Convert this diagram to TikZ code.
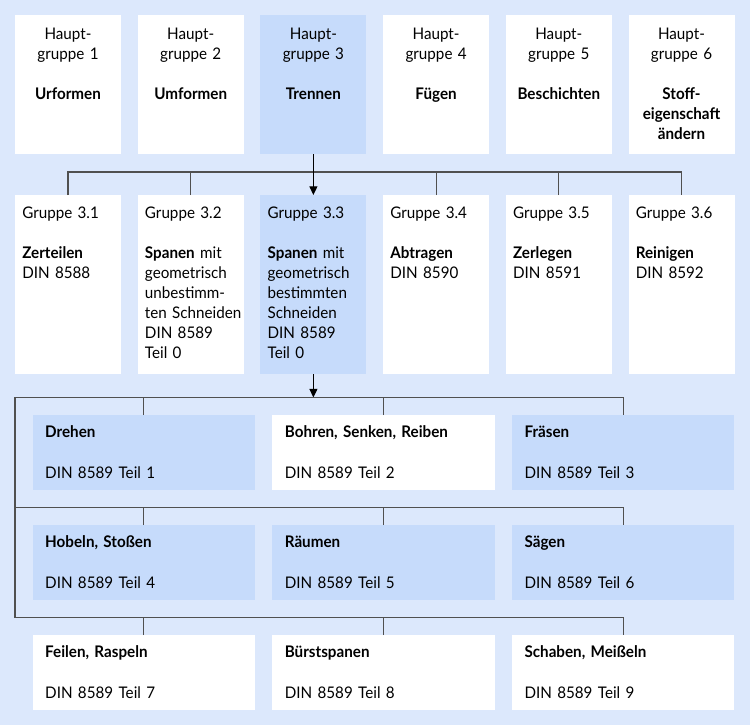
\documentclass[tikz,border=0pt]{standalone}
\usepackage{fontspec}
\setmainfont{Lato}[FakeStretch=0.95,WordSpace=0.85]
\usetikzlibrary{arrows.meta}
\definecolor{bgc}{HTML}{DCE8FC}
\definecolor{hlc}{HTML}{C6DBFB}
\definecolor{linec}{HTML}{505050}
\tikzset{
  topbox/.style={draw=none,anchor=north west,inner sep=0pt,outer sep=0pt,minimum width=79.5pt,minimum height=104.25pt},
  midbox/.style={draw=none,anchor=north west,inner sep=0pt,outer sep=0pt,minimum width=79.5pt,minimum height=134.25pt},
  gridbox/.style={draw=none,anchor=north west,inner sep=0pt,outer sep=0pt,minimum width=166.7pt,minimum height=56.25pt},
  toptext/.style={anchor=base,inner sep=0pt,text width=80pt,align=center,font=\fontsize{12pt}{15pt}\selectfont},
  midtext/.style={anchor=base west,inner sep=0pt,text width=80pt,align=left,font=\fontsize{12pt}{15pt}\selectfont},
  gridtext/.style={anchor=base west,inner sep=0pt,text width=150pt,align=left,font=\fontsize{12pt}{15pt}\selectfont},
  conn/.style={draw=linec,line width=0.8pt},
  arr/.style={draw=black,line width=0.8pt,-{Triangle[length=6.5pt,width=6pt]}}
}
\begin{document}
\begin{tikzpicture}[x=0.75pt,y=-0.75pt]
\fill[bgc] (0,0) rectangle (750,725);
\useasboundingbox (0,0) rectangle (750,725);
% top row
\node[topbox,fill=white] (h1) at (15,15) {};
\node[topbox,fill=white] (h2) at (137.7,15) {};
\node[topbox,fill=hlc]   (h3) at (260.4,15) {};
\node[topbox,fill=white] (h4) at (383.1,15) {};
\node[topbox,fill=white] (h5) at (505.8,15) {};
\node[topbox,fill=white] (h6) at (628.5,15) {};
\node[toptext] (h1t) at ([yshift=-18pt]h1.north) {Haupt-\\gruppe 1\\[15pt]\textbf{Urformen}};
\node[toptext] (h2t) at ([yshift=-18pt]h2.north) {Haupt-\\gruppe 2\\[15pt]\textbf{Umformen}};
\node[toptext] (h3t) at ([yshift=-18pt]h3.north) {Haupt-\\gruppe 3\\[15pt]\textbf{Trennen}};
\node[toptext] (h4t) at ([yshift=-18pt]h4.north) {Haupt-\\gruppe 4\\[15pt]\textbf{Fügen}};
\node[toptext] (h5t) at ([yshift=-18pt]h5.north) {Haupt-\\gruppe 5\\[15pt]\textbf{Beschichten}};
\node[toptext] (h6t) at ([yshift=-18pt]h6.north) {Haupt-\\gruppe 6\\[15pt]\textbf{Stoff-}\\\textbf{eigenschaft}\\\textbf{ändern}};
% second row
\node[midbox,fill=white] (g1) at (15,195) {};
\node[midbox,fill=white] (g2) at (137.7,195) {};
\node[midbox,fill=hlc]   (g3) at (260.4,195) {};
\node[midbox,fill=white] (g4) at (383.1,195) {};
\node[midbox,fill=white] (g5) at (505.8,195) {};
\node[midbox,fill=white] (g6) at (628.5,195) {};
\node[midtext] (g1t) at ([xshift=5.25pt,yshift=-17.25pt]g1.north west) {Gruppe 3.1\\[15pt]\textbf{Zerteilen}\\DIN 8588};
\node[midtext] (g2t) at ([xshift=5.25pt,yshift=-17.25pt]g2.north west) {Gruppe 3.2\\[15pt]\textbf{Spanen} mit\\geometrisch\\unbestimm-\\ten~Schneiden\\DIN 8589\\Teil 0};
\node[midtext] (g3t) at ([xshift=5.25pt,yshift=-17.25pt]g3.north west) {Gruppe 3.3\\[15pt]\textbf{Spanen} mit\\geometrisch\\bestimmten\\Schneiden\\DIN 8589\\Teil 0};
\node[midtext] (g4t) at ([xshift=5.25pt,yshift=-17.25pt]g4.north west) {Gruppe 3.4\\[15pt]\textbf{Abtragen}\\DIN 8590};
\node[midtext] (g5t) at ([xshift=5.25pt,yshift=-17.25pt]g5.north west) {Gruppe 3.5\\[15pt]\textbf{Zerlegen}\\DIN 8591};
\node[midtext] (g6t) at ([xshift=5.25pt,yshift=-17.25pt]g6.north west) {Gruppe 3.6\\[15pt]\textbf{Reinigen}\\DIN 8592};
% grid
\node[gridbox,fill=hlc]   (p1) at (32.7,415) {};
\node[gridbox,fill=white] (p2) at (272.3,415) {};
\node[gridbox,fill=hlc]   (p3) at (512,415) {};
\node[gridbox,fill=hlc]   (p4) at (32.7,525) {};
\node[gridbox,fill=hlc]   (p5) at (272.3,525) {};
\node[gridbox,fill=hlc]   (p6) at (512,525) {};
\node[gridbox,fill=white] (p7) at (32.7,635) {};
\node[gridbox,fill=white] (p8) at (272.3,635) {};
\node[gridbox,fill=white] (p9) at (512,635) {};
\foreach \n/\t/\d in {p1/Drehen/1,p2/{Bohren, Senken, Reiben}/2,p3/Fräsen/3,p4/{Hobeln, Stoßen}/4,p5/Räumen/5,p6/Sägen/6,p7/{Feilen, Raspeln}/7,p8/Bürstspanen/8,p9/{Schaben, Meißeln}/9}{
  \node[gridtext] (\n t) at ([xshift=9.2pt,yshift=-17pt]\n.north west) {\textbf{\t}\\[15.75pt]DIN 8589 Teil \d};
}
% connectors level 1
\coordinate (busA) at (0,172);
\draw[conn] (g1.north) -- (g1.north |- busA) -- (g6.north |- busA) -- (g6.north);
\foreach \n in {g2,g4,g5}{\draw[conn] (\n.north) -- (\n.north |- busA);}
\draw[arr] (h3.south) -- (g3.north);
% connectors level 2
\coordinate (busB) at (15,397.5);
\coordinate (busC) at (15,507.7);
\coordinate (busD) at (15,617.7);
\draw[arr] (g3.south) -- (g3.south |- busB);
\draw[conn] (busD) -- (busB) -- (p3.north |- busB) -- (p3.north);
\draw[conn] (busC) -- (p6.north |- busC) -- (p6.north);
\draw[conn] (busD) -- (p9.north |- busD) -- (p9.north);
\foreach \n/\b in {p1/busB,p2/busB,p4/busC,p5/busC,p7/busD,p8/busD}{\draw[conn] (\n.north) -- (\n.north |- \b);}
\end{tikzpicture}
\end{document}
